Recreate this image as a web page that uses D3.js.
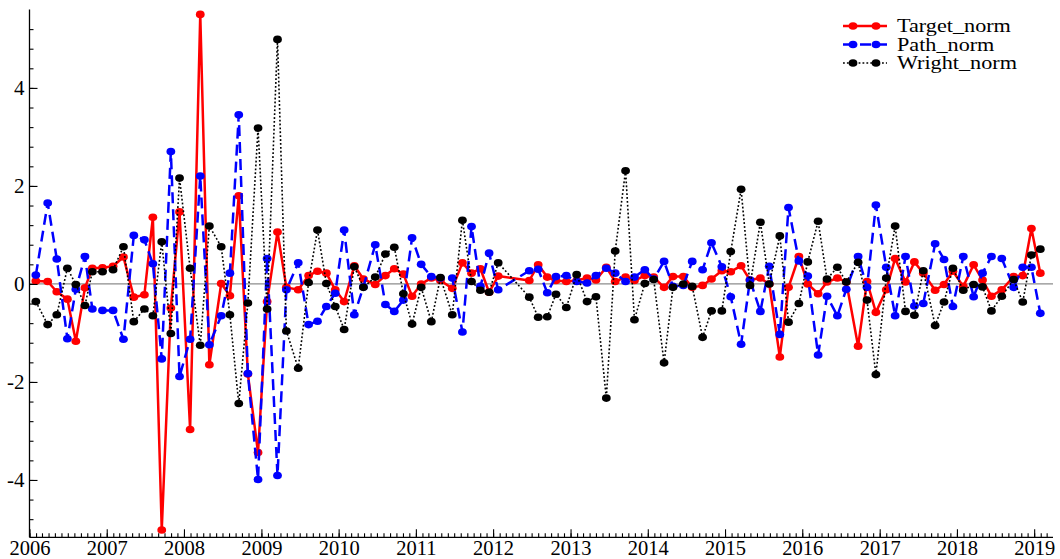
<!DOCTYPE html>
<html>
<head>
<meta charset="utf-8">
<script src="https://cdn.jsdelivr.net/npm/d3@7"></script>
<style>
  body { margin: 0; background: #ffffff; }
  svg { display: block; }
  text { font-family: "Liberation Serif", "Times New Roman", serif; fill: #000; }
</style>
</head>
<body>
<svg id="chart" width="1060" height="559"></svg>
<script>
// FOMC announcement dates (scheduled meetings; Mar/Apr 2012 not in sample)
const meetingDates = [
  "2006-01-31","2006-03-28","2006-05-10","2006-06-29","2006-08-08","2006-09-20","2006-10-25","2006-12-12",
  "2007-01-31","2007-03-21","2007-05-09","2007-06-28","2007-08-07","2007-09-18","2007-10-31","2007-12-11",
  "2008-01-30","2008-03-18","2008-04-30","2008-06-25","2008-08-05","2008-09-16","2008-10-29","2008-12-16",
  "2009-01-28","2009-03-18","2009-04-29","2009-06-24","2009-08-12","2009-09-23","2009-11-04","2009-12-16",
  "2010-01-27","2010-03-16","2010-04-28","2010-06-23","2010-08-10","2010-09-21","2010-11-03","2010-12-14",
  "2011-01-26","2011-03-15","2011-04-27","2011-06-22","2011-08-09","2011-09-21","2011-11-02","2011-12-13",
  "2012-01-25","2012-06-20","2012-08-01","2012-09-13","2012-10-24","2012-12-12",
  "2013-01-30","2013-03-20","2013-05-01","2013-06-19","2013-07-31","2013-09-18","2013-10-30","2013-12-18",
  "2014-01-29","2014-03-19","2014-04-30","2014-06-18","2014-07-30","2014-09-17","2014-10-29","2014-12-17",
  "2015-01-28","2015-03-18","2015-04-29","2015-06-17","2015-07-29","2015-09-17","2015-10-28","2015-12-16",
  "2016-01-27","2016-03-16","2016-04-27","2016-06-15","2016-07-27","2016-09-21","2016-11-02","2016-12-14",
  "2017-02-01","2017-03-15","2017-05-03","2017-06-14","2017-07-26","2017-09-20","2017-11-01","2017-12-13",
  "2018-01-31","2018-03-21","2018-05-02","2018-06-13","2018-08-01","2018-09-26","2018-11-08","2018-12-19",
  "2019-01-30"
];

const targetNorm = [
  0.06, 0.05, -0.16, -0.31, -1.17, -0.08, 0.32, 0.33,
  0.36, 0.55, -0.27, -0.22, 1.36, -5.02, -0.49, 1.47,
  -2.97, 5.50, -1.65, 0.01, -0.24, 1.80, -1.84, -3.44,
  -0.36, 1.06, -0.07, -0.12, 0.17, 0.26, 0.22, -0.12,
  -0.36, 0.37, 0.10, -0.01, 0.17, 0.31, 0.20, -0.25,
  0.00, 0.12, 0.07, -0.09, 0.43, 0.22, 0.31, -0.17,
  0.16, 0.07, 0.39, 0.14, 0.07, 0.05,
  0.07, 0.12, 0.08, 0.34, 0.05, 0.14, 0.07, 0.17,
  0.14, -0.07, 0.15, 0.15, -0.07, -0.03, 0.10, 0.27,
  0.25, 0.37, 0.08, 0.12, 0.00, -1.49, -0.07, 0.56,
  0.00, -0.20, 0.04, 0.12, 0.04, -1.27, 0.05, -0.58,
  -0.12, 0.52, 0.04, 0.45, 0.22, -0.13, -0.01, 0.26,
  -0.05, 0.39, 0.08, -0.25, -0.12, 0.15, 0.17, 1.13,
  0.22
];

const pathNorm = [
  0.18, 1.65, 0.51, -1.12, -0.11, 0.56, -0.51, -0.54,
  -0.54, -1.13, 0.99, 0.90, 0.41, -1.53, 2.70, -1.89,
  -1.13, 2.20, -1.24, -0.65, 0.22, 3.45, -1.83, -3.99,
  0.52, -3.91, -0.12, 0.43, -0.83, -0.76, -0.46, -0.19,
  1.10, -0.63, -0.06, 0.80, -0.42, -0.56, -0.33, 0.94,
  0.40, 0.15, 0.12, 0.12, -0.98, 1.17, -0.05, 0.63,
  -0.12, 0.27, 0.30, -0.18, 0.15, 0.17,
  0.05, 0.02, 0.17, 0.32, 0.22, 0.05, 0.14, 0.29,
  0.10, 0.46, -0.05, -0.03, 0.46, 0.29, 0.84, 0.35,
  -0.26, -1.23, 0.08, -0.56, 0.36, -1.03, 1.56, 0.47,
  0.16, -1.45, -0.25, -0.65, -0.11, 0.56, -0.07, 1.61,
  0.34, -0.65, 0.56, -0.45, -0.40, 0.82, 0.50, -0.46,
  0.56, -0.26, 0.22, 0.56, 0.52, -0.07, 0.34, 0.34,
  -0.60
];

const wrightNorm = [
  -0.36, -0.83, -0.63, 0.32, -0.01, -0.44, 0.25, 0.25,
  0.29, 0.76, -0.77, -0.51, -0.65, 0.86, -1.01, 2.16,
  0.32, -1.25, 1.18, 0.76, -0.63, -2.44, -0.39, 3.18,
  -0.51, 4.99, -0.96, -1.72, 0.03, 1.10, 0.01, -0.46,
  -0.93, 0.35, -0.07, 0.14, 0.61, 0.75, -0.20, -0.82,
  -0.07, -0.77, 0.13, -0.63, 1.30, 0.05, -0.13, -0.17,
  0.43, -0.27, -0.68, -0.67, -0.21, -0.48,
  0.19, -0.36, -0.26, -2.33, 0.67, 2.31, -0.73, 0.01,
  0.09, -1.61, -0.07, 0.00, -0.05, -1.09, -0.55, -0.55,
  0.66, 1.93, -0.03, 1.26, 0.00, 0.98, -0.78, -0.40,
  0.45, 1.28, 0.10, 0.34, 0.04, 0.44, -0.33, -1.85,
  0.12, 1.18, -0.56, -0.64, 0.27, -0.85, -0.37, 0.32,
  -0.13, -0.01, -0.06, -0.55, -0.25, 0.09, -0.37, 0.59,
  0.71
];

const seriesNames = ["Target_norm", "Path_norm", "Wright_norm"];
const yTickValues = [-4, -2, 0, 2, 4];
const xTickYears = [2006, 2007, 2008, 2009, 2010, 2011, 2012, 2013, 2014, 2015, 2016, 2017, 2018, 2019];

const parseDate = d3.timeParse("%Y-%m-%d");
const dates = meetingDates.map(parseDate);

const svg = d3.select("#chart");

// plot frame
const plotLeft = 29.5, plotRight = 1053, plotTop = 9.5, plotBottom = 537.3;

const x = d3.scaleTime()
  .domain([new Date(2006, 0, 1), new Date(2019, 2, 31)])
  .range([plotLeft, plotRight]);

const y = d3.scaleLinear()
  .domain([-5.17, 5.6])
  .range([plotBottom, plotTop]);

// zero reference line
svg.append("line")
  .attr("x1", plotLeft).attr("x2", plotRight)
  .attr("y1", y(0)).attr("y2", y(0))
  .attr("stroke", "#8c8c8c").attr("stroke-width", 1.2);

// series definitions
const series = [
  { name: seriesNames[0], values: targetNorm, color: "#ff0000", width: 2.5, dash: null },
  { name: seriesNames[1], values: pathNorm,   color: "#0000ff", width: 2.5, dash: "11,6" },
  { name: seriesNames[2], values: wrightNorm, color: "#000000", width: 1.6, dash: "1.8,2.1" }
];

const line = d3.line()
  .x(d => x(d.date))
  .y(d => y(d.v));

const plot = svg.append("g");
series.forEach(s => {
  const pts = dates.map((dt, i) => ({ date: dt, v: s.values[i] }));
  const g = plot.append("g");
  g.append("path")
    .datum(pts)
    .attr("d", line)
    .attr("fill", "none")
    .attr("stroke", s.color)
    .attr("stroke-width", s.width)
    .attr("stroke-linejoin", "round")
    .attr("stroke-dasharray", s.dash);
  g.selectAll("ellipse")
    .data(pts)
    .join("ellipse")
    .attr("cx", d => x(d.date))
    .attr("cy", d => y(d.v))
    .attr("rx", 4.4)
    .attr("ry", 3.8)
    .attr("fill", s.color);
});

// y axis: major and minor ticks pointing inward
const yMinor = d3.range(-4.8, 5.21, 0.4).map(v => +v.toFixed(1));
svg.append("g")
  .attr("transform", `translate(${plotLeft},0)`)
  .call(d3.axisLeft(y).tickValues(yMinor).tickSizeInner(-4).tickSizeOuter(0).tickFormat(""))
  .call(g => g.select(".domain").remove())
  .call(g => g.selectAll("line").attr("stroke-width", 1.1));

svg.append("g")
  .attr("transform", `translate(${plotLeft},0)`)
  .call(d3.axisLeft(y).tickValues(yTickValues).tickSizeInner(-8).tickSizeOuter(0).tickPadding(5)
        .tickFormat(d => String(d)))
  .call(g => g.select(".domain").remove())
  .call(g => g.selectAll("line").attr("stroke-width", 1.1))
  .call(g => g.selectAll("text").attr("font-size", 21).attr("font-family", "Liberation Serif"));

// x axis: monthly minor ticks, yearly major ticks
const monthTicks = d3.timeMonth.range(new Date(2006, 0, 1), new Date(2019, 2, 2));
svg.append("g")
  .attr("transform", `translate(0,${plotBottom})`)
  .call(d3.axisBottom(x).tickValues(monthTicks).tickSizeInner(-4).tickSizeOuter(0).tickFormat(""))
  .call(g => g.select(".domain").remove())
  .call(g => g.selectAll("line").attr("stroke-width", 1.1));

svg.append("g")
  .attr("transform", `translate(0,${plotBottom})`)
  .call(d3.axisBottom(x).tickValues(xTickYears.map(yr => new Date(yr, 0, 1)))
        .tickSizeInner(-8).tickSizeOuter(0).tickPadding(3).tickFormat(d3.timeFormat("%Y")))
  .call(g => g.select(".domain").remove())
  .call(g => g.selectAll("line").attr("stroke-width", 1.1))
  .call(g => g.selectAll("text").attr("font-size", 20.5).attr("font-family", "Liberation Serif"));

// axis lines
svg.append("line")
  .attr("x1", plotLeft).attr("x2", plotLeft).attr("y1", plotTop).attr("y2", plotBottom)
  .attr("stroke", "#000").attr("stroke-width", 1.3);
svg.append("line")
  .attr("x1", plotLeft).attr("x2", plotRight).attr("y1", plotBottom).attr("y2", plotBottom)
  .attr("stroke", "#000").attr("stroke-width", 1.3);

// legend: sample line with two markers, then the series name (wide serif lettering)
const legend = svg.append("g").attr("transform", "translate(843,26)");
series.forEach((s, i) => {
  const row = legend.append("g").attr("transform", `translate(0,${i * 18.5})`);
  row.append("line")
    .attr("x1", 0).attr("x2", 44).attr("y1", 0).attr("y2", 0)
    .attr("stroke", s.color).attr("stroke-width", s.width)
    .attr("stroke-dasharray", s.dash);
  [10, 33].forEach(cx => row.append("ellipse")
    .attr("cx", cx).attr("cy", 0).attr("rx", 4.4).attr("ry", 3.8).attr("fill", s.color));
  row.append("text")
    .attr("transform", "translate(54,0) scale(1.2,1)")
    .attr("dy", "0.34em")
    .attr("font-size", 18.5)
    .text(s.name);
});
</script>
</body>
</html>
